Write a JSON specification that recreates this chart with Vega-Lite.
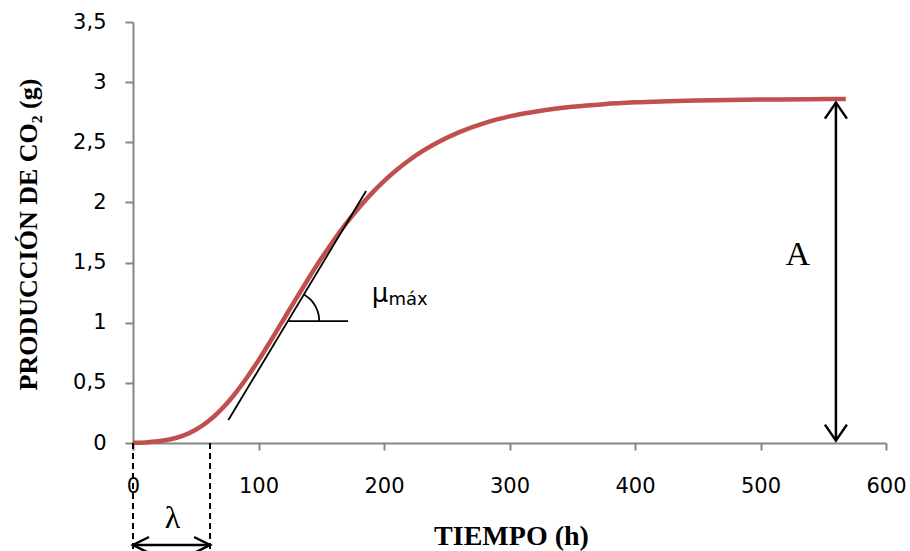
{
  "$schema": "https://vega.github.io/schema/vega-lite/v6.json",
  "width": 753,
  "height": 421,
  "autosize": {"type": "none"},
  "padding": {"left": 133, "top": 22, "right": 24, "bottom": 108},
  "background": "white",
  "config": {"view": {"stroke": null}},
  "datasets": {
    "curve": [
      {"x": 0, "y": 0.002}, {"x": 10, "y": 0.005}, {"x": 20, "y": 0.014}, {"x": 30, "y": 0.031},
      {"x": 40, "y": 0.061}, {"x": 50, "y": 0.11}, {"x": 60, "y": 0.18}, {"x": 70, "y": 0.275},
      {"x": 80, "y": 0.393}, {"x": 90, "y": 0.532}, {"x": 100, "y": 0.687}, {"x": 110, "y": 0.854},
      {"x": 120, "y": 1.027}, {"x": 130, "y": 1.2}, {"x": 140, "y": 1.37}, {"x": 150, "y": 1.533},
      {"x": 160, "y": 1.686}, {"x": 170, "y": 1.827}, {"x": 180, "y": 1.956}, {"x": 190, "y": 2.073},
      {"x": 200, "y": 2.177}, {"x": 210, "y": 2.269}, {"x": 220, "y": 2.351}, {"x": 230, "y": 2.422},
      {"x": 240, "y": 2.484}, {"x": 260, "y": 2.585}, {"x": 280, "y": 2.66}, {"x": 300, "y": 2.715},
      {"x": 325, "y": 2.763}, {"x": 350, "y": 2.795}, {"x": 375, "y": 2.817}, {"x": 400, "y": 2.832},
      {"x": 450, "y": 2.848}, {"x": 500, "y": 2.855}, {"x": 540, "y": 2.858}, {"x": 568, "y": 2.86}
    ],
    "thin": [
      {"name": "tangente", "x": 76, "y": 0.191, "x2": 185.7, "y2": 2.095},
      {"name": "horizontal", "x": 123.9, "y": 1.014, "x2": 171.3, "y2": 1.014}
    ],
    "arc": [
      {"x": 148.4, "y": 1.014}, {"x": 148.0, "y": 1.058}, {"x": 146.9, "y": 1.101},
      {"x": 145.1, "y": 1.142}, {"x": 142.7, "y": 1.178}, {"x": 139.6, "y": 1.209}, {"x": 136.5, "y": 1.233}
    ],
    "arrows": [
      {"name": "A", "x": 560.1, "y": 0.02, "x2": 560.1, "y2": 2.83},
      {"name": "lambda", "x": 0, "y": -0.848, "x2": 61.4, "y2": -0.848}
    ],
    "dashed": [
      {"x": 0, "y": 0, "x2": 0, "y2": -0.9},
      {"x": 61.4, "y": 0, "x2": 61.4, "y2": -0.9}
    ],
    "heads": [
      {"dir": "down", "x": 560.1, "y": 0.02},
      {"dir": "up", "x": 560.1, "y": 2.83},
      {"dir": "left", "x": 0, "y": -0.848},
      {"dir": "right", "x": 61.4, "y": -0.848}
    ]
  },
  "encoding": {
    "x": {
      "field": "x", "type": "quantitative",
      "scale": {"domain": [0, 600], "nice": false},
      "axis": {
        "title": "TIEMPO (h)", "values": [0, 100, 200, 300, 400, 500, 600],
        "grid": false, "domainColor": "#868686", "domainWidth": 2, "tickColor": "#868686",
        "tickWidth": 2, "tickSize": 7, "labelFont": "DejaVu Sans", "labelFontSize": 21,
        "labelColor": "#000000", "labelBaseline": "alphabetic", "labelPadding": 42,
        "labelFlush": false, "labelOverlap": false,
        "titleFont": "Liberation Serif", "titleFontSize": 28, "titleFontWeight": "bold",
        "titleColor": "#000000", "titleBaseline": "alphabetic", "titleY": 101, "titleX": 378
      }
    },
    "y": {
      "field": "y", "type": "quantitative",
      "scale": {"domain": [0, 3.5], "nice": false},
      "axis": {
        "title": "PRODUCCIÓN DE CO₂ (g)", "values": [0, 0.5, 1, 1.5, 2, 2.5, 3, 3.5],
        "labelExpr": "replace(format(datum.value, '~g'), '.', ',')",
        "grid": false, "domainColor": "#868686", "domainWidth": 2, "tickColor": "#868686",
        "tickWidth": 2, "tickSize": 8, "labelFont": "DejaVu Sans", "labelFontSize": 21,
        "labelColor": "#000000", "labelPadding": 19, "labelFlush": false, "labelOverlap": false,
        "titleFont": "Liberation Serif", "titleFontSize": 26, "titleFontWeight": "bold",
        "titleColor": "#000000", "titleBaseline": "alphabetic", "titleAngle": 270,
        "titleX": -97, "titleY": 212
      }
    }
  },
  "layer": [
    {
      "data": {"name": "curve"},
      "mark": {"type": "line", "color": "#C0504D", "strokeWidth": 4.5, "interpolate": "monotone"}
    },
    {
      "data": {"name": "thin"},
      "mark": {"type": "rule", "color": "#000000", "strokeWidth": 1.8},
      "encoding": {"x2": {"field": "x2"}, "y2": {"field": "y2"}}
    },
    {
      "data": {"name": "arc"},
      "mark": {"type": "line", "color": "#000000", "strokeWidth": 1.8, "interpolate": "monotone"},
      "encoding": {"order": {"field": "y", "type": "quantitative"}}
    },
    {
      "data": {"name": "arrows"},
      "mark": {"type": "rule", "color": "#000000", "strokeWidth": 2.5},
      "encoding": {"x2": {"field": "x2"}, "y2": {"field": "y2"}}
    },
    {
      "data": {"name": "dashed"},
      "mark": {"type": "rule", "color": "#000000", "strokeWidth": 2, "strokeDash": [6, 4]},
      "encoding": {"x2": {"field": "x2"}, "y2": {"field": "y2"}}
    },
    {
      "data": {"name": "heads"},
      "mark": {"type": "point", "filled": false, "color": "#000000", "strokeWidth": 2.5, "opacity": 1, "size": 400},
      "encoding": {
        "shape": {
          "field": "dir", "type": "nominal", "legend": null,
          "scale": {
            "domain": ["up", "down", "left", "right"],
            "range": ["M-1.1,1.6L0,0L1.1,1.6", "M-1.1,-1.6L0,0L1.1,-1.6", "M1.6,-0.8L0,0L1.6,0.8", "M-1.6,-0.8L0,0L-1.6,0.8"]
          }
        }
      }
    },
    {
      "data": {"values": [{"label": "A", "x": 529.8, "y": 1.48}]},
      "mark": {"type": "text", "font": "Liberation Serif", "fontSize": 34, "color": "#000000", "align": "center", "baseline": "alphabetic"},
      "encoding": {"text": {"field": "label"}}
    },
    {
      "data": {"values": [{"label": "λ", "x": 31.5, "y": -0.707}]},
      "mark": {"type": "text", "font": "Liberation Serif", "fontSize": 32, "color": "#000000", "align": "center", "baseline": "alphabetic"},
      "encoding": {"text": {"field": "label"}}
    },
    {
      "data": {"values": [{"label": "μ", "x": 190.2, "y": 1.172}]},
      "mark": {"type": "text", "font": "DejaVu Sans", "fontSize": 26, "color": "#000000", "align": "left", "baseline": "alphabetic"},
      "encoding": {"text": {"field": "label"}}
    },
    {
      "data": {"values": [{"label": "máx", "x": 203.5, "y": 1.147}]},
      "mark": {"type": "text", "font": "DejaVu Sans", "fontSize": 18, "color": "#000000", "align": "left", "baseline": "alphabetic"},
      "encoding": {"text": {"field": "label"}}
    }
  ]
}
